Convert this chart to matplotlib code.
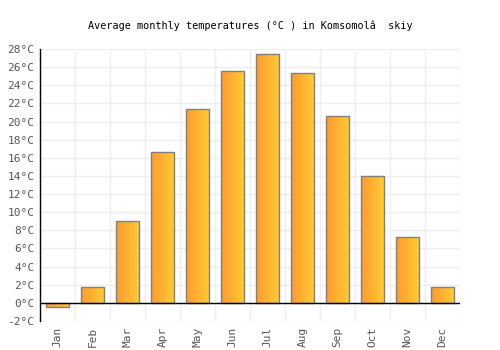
import matplotlib
matplotlib.use("Agg")
from matplotlib import pyplot as plt
from matplotlib.colors import LinearSegmentedColormap
import numpy as np

# Monthly data
months = ['Jan', 'Feb', 'Mar', 'Apr', 'May', 'Jun', 'Jul', 'Aug', 'Sep', 'Oct', 'Nov', 'Dec']
temps = [-0.5, 1.7, 9.0, 16.6, 21.4, 25.6, 27.5, 25.4, 20.6, 14.0, 7.3, 1.8]
yticks = list(range(-2, 29, 2))
ylabels = ['%d°C' % t for t in yticks]

plt.rcParams['font.family'] = 'DejaVu Sans Mono'

fig = plt.figure(figsize=(5, 3.5), dpi=100)
ax = fig.add_axes([0.08, 0.083, 0.84, 0.777])

x = np.arange(len(months))
bars = ax.bar(x, temps, width=0.68, color='none', edgecolor='#808080', linewidth=1.0, zorder=3)

# gradient fill, orange -> yellow
cmap = LinearSegmentedColormap.from_list('og', ['#ff9a30', '#ffcc33'])
grad = np.linspace(0, 1, 64).reshape(1, -1)
for b in bars:
    x0, y0 = b.get_x(), b.get_y()
    w, h = b.get_width(), b.get_height()
    im = ax.imshow(grad, cmap=cmap, aspect='auto', zorder=2,
                   extent=[x0, x0 + w, min(y0, y0 + h), max(y0, y0 + h)])
    im.set_clip_path(b)

ax.set_xlim(-0.5, 11.5)
ax.set_ylim(-2, 28)
ax.set_yticks(yticks)
ax.set_yticklabels(ylabels)
ax.set_xticks(x)
ax.set_xticklabels(months, rotation=90)
ax.tick_params(axis='both', length=0, labelsize=8, colors='#555555', pad=4)

# grid
for t in yticks:
    ax.axhline(t, color='#eeeeee', linewidth=1, zorder=0)
for i in range(len(months)):
    ax.axvline(i + 0.5, color='#eeeeee', linewidth=1, zorder=0)
ax.axhline(0, color='black', linewidth=1, zorder=4)

for s in ['top', 'right', 'bottom']:
    ax.spines[s].set_visible(False)
ax.spines['left'].set_color('black')
ax.spines['left'].set_linewidth(1)

fig.text(0.5, 0.927, 'Average monthly temperatures (°C ) in Komsomolâ  skiy',
         ha='center', va='center', fontsize=7.3, color='black')

fig.savefig('out.png', dpi=100)
